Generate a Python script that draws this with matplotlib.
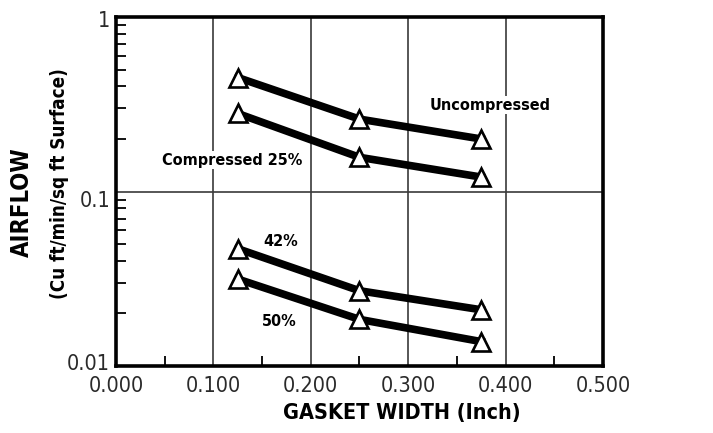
import numpy as np
import matplotlib
matplotlib.use("Agg")
import matplotlib.pyplot as plt
from matplotlib.ticker import FixedLocator, LogLocator, NullFormatter, FixedFormatter
from matplotlib.transforms import offset_copy

# gasket width (inch) and airflow (cu ft/min/sq ft surface)
width = [0.125, 0.25, 0.375]
uncompressed = [0.45, 0.26, 0.20]
comp_25 = [0.28, 0.157, 0.121]
comp_42 = [0.047, 0.027, 0.021]
comp_50 = [0.0315, 0.0185, 0.0138]

series = [uncompressed, comp_25, comp_42, comp_50]
labels = ["Uncompressed", "Compressed 25%", "42%", "50%"]
label_pos = [(0.322, 0.313), (0.047, 0.151), (0.151, 0.052), (0.150, 0.0181)]

xticks = [0.0, 0.1, 0.2, 0.3, 0.4, 0.5]
xticklabels = ["0.000", "0.100", "0.200", "0.300", "0.400", "0.500"]
yticks = [0.01, 0.1, 1]
yticklabels = ["0.01", "0.1", "1"]
ylabel_shift = [2, -9, -4]  # pixels, as drawn in the original

fam, stretch = "DejaVu Sans", "condensed"

fig = plt.figure(figsize=(7.13, 4.33), dpi=100)
ax = fig.add_axes([0.1627, 0.1547, 0.683, 0.806])
ax.set_yscale("log")
ax.set_xlim(0, 0.5)
ax.set_ylim(0.01, 1)

# grid lines
for gx in xticks[1:-1]:
    ax.axvline(gx, color="#3a3a3a", lw=1.2, zorder=1)
ax.axhline(0.1, color="#3a3a3a", lw=1.2, zorder=1)

for vals in series:
    ax.plot(width, vals, color="black", lw=5.5, marker="^", ms=12.5,
            mfc="white", mec="black", mew=1.9, zorder=3)

for lab, (tx, ty) in zip(labels, label_pos):
    ax.text(tx, ty, lab, fontsize=11.6, fontweight="bold", family=fam, stretch=stretch,
            va="center", ha="left", zorder=2,
            bbox=dict(facecolor="white", edgecolor="none", pad=1))

ax.xaxis.set_major_locator(FixedLocator(xticks))
ax.xaxis.set_major_formatter(FixedFormatter(xticklabels))
ax.xaxis.set_minor_locator(FixedLocator([0.05, 0.15, 0.25, 0.35, 0.45]))
ax.yaxis.set_major_locator(FixedLocator(yticks))
ax.yaxis.set_major_formatter(NullFormatter())
ax.yaxis.set_minor_locator(LogLocator(base=10, subs=np.arange(2, 10)))
ax.yaxis.set_minor_formatter(NullFormatter())

ax.tick_params(which="major", length=0, labelsize=15.5)
ax.tick_params(axis="x", which="major", pad=7)
ax.tick_params(which="minor", direction="in", length=7.5, width=1.3, color="black")
ax.tick_params(axis="x", which="minor", top=False)
ax.tick_params(axis="y", which="minor", right=False)
for t in ax.get_xticklabels():
    t.set_family(fam)
    t.set_stretch(stretch)
    t.set_color("#2a2a2a")

# y tick labels, nudged like the original
for yv, yl, dy in zip(yticks, yticklabels, ylabel_shift):
    tr = offset_copy(ax.get_yaxis_transform(), fig=fig, x=-6, y=dy, units="dots")
    ax.text(0, yv, yl, transform=tr, ha="right", va="center", fontsize=15.5,
            family=fam, stretch=stretch, color="#2a2a2a")

for s in ax.spines.values():
    s.set_linewidth(2.6)
    s.set_zorder(4)

ax.set_xlabel("GASKET WIDTH (Inch)", fontsize=15.5, fontweight="bold", family=fam,
              stretch=stretch)
ax.xaxis.set_label_coords(0.586, -0.105)
fig.text(0.031, 1 - 202 / 433, "AIRFLOW", rotation=90, fontsize=17, fontweight="bold",
         family=fam, stretch=stretch, ha="center", va="center")
fig.text(0.084, 1 - 184 / 433, "(Cu ft/min/sq ft Surface)", rotation=90, fontsize=13.5,
         fontweight="bold", family=fam, stretch=stretch, ha="center", va="center")

fig.savefig("out.png", dpi=100)
